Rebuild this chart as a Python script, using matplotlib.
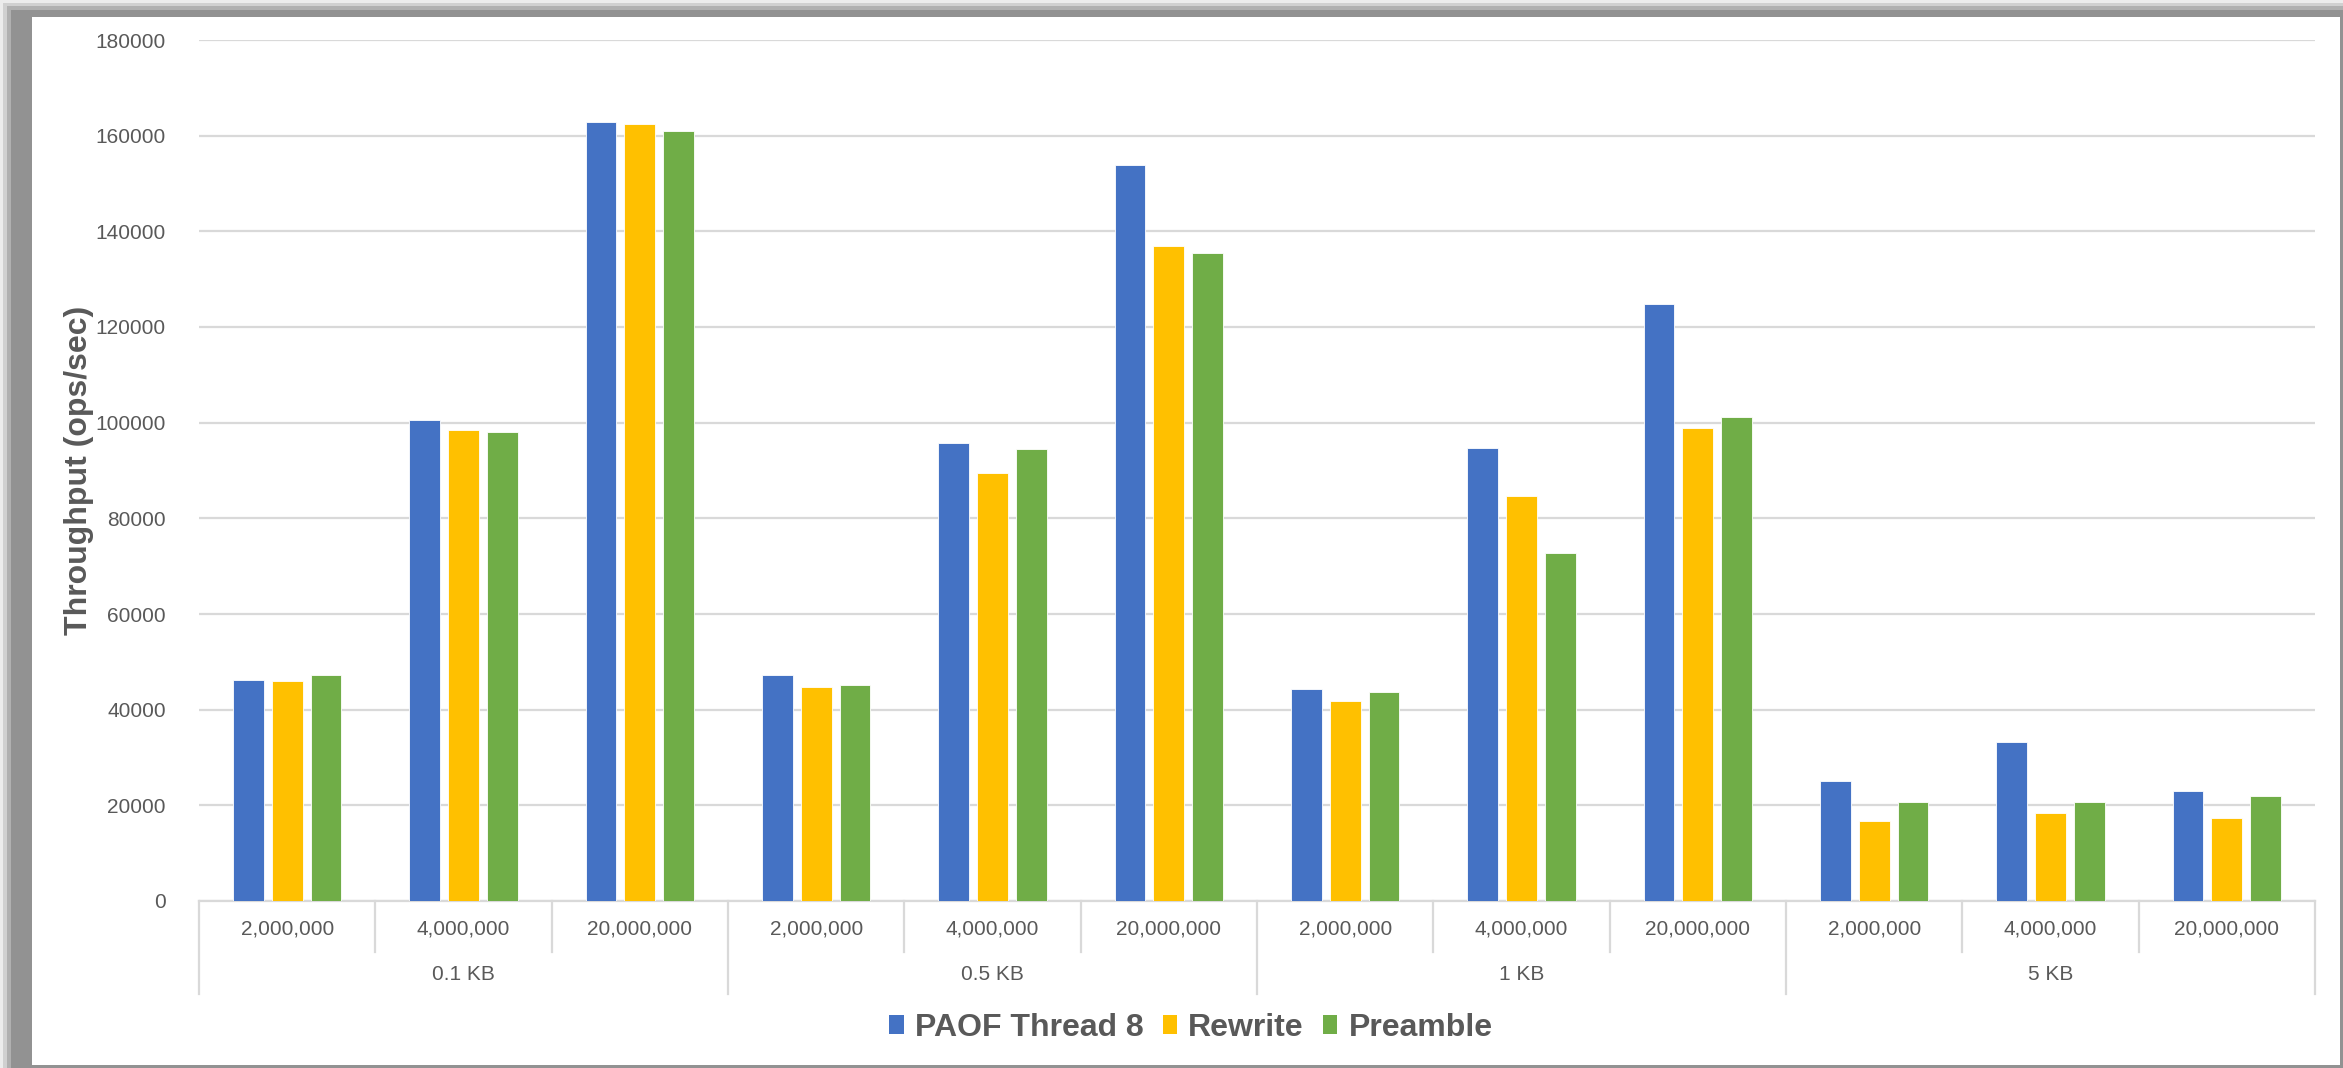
import matplotlib
matplotlib.use("Agg")
import matplotlib.pyplot as plt
from matplotlib.patches import Rectangle, Patch
import numpy as np

plt.rcParams['font.family'] = ['Liberation Sans', 'DejaVu Sans']

sizes = ['0.1 KB', '0.5 KB', '1 KB', '5 KB']
keys = ['2,000,000', '4,000,000', '20,000,000']
series_names = ['PAOF Thread 8', 'Rewrite', 'Preamble']
paof = [46300, 100500, 162800, 47200, 95800, 153800, 44300, 94800, 124800, 25000, 33200, 23100]
rewrite = [46000, 98400, 162500, 44700, 89500, 137000, 41900, 84700, 98800, 16800, 18400, 17300]
preamble = [47300, 98100, 161000, 45200, 94500, 135500, 43600, 72800, 101100, 20600, 20600, 21900]
colors = ['#4472C4', '#FFC000', '#70AD47']

W, H = 2343, 1068
fig = plt.figure(figsize=(W / 100, H / 100), dpi=100)
fig.patch.set_facecolor('#ececec')

def frect(x0, y0, x1, y1, color, z=0):
    # pixel coords from top-left
    fig.patches.append(Rectangle((x0 / W, 1 - y1 / H), (x1 - x0) / W, (y1 - y0) / H,
                                 transform=fig.transFigure, facecolor=color,
                                 edgecolor='none', zorder=z))

frect(3, 3, W, H, '#d0d0d0', 0)
frect(7, 6, W, H, '#b0b0b0', 0)
frect(11, 10, W, H, '#929292', 0)
frect(32, 17, W - 3, H - 3, '#ffffff', 1)

ax = fig.add_axes([199 / W, 1 - 901 / H, (2315 - 199) / W, (901 - 40) / H])
ax.set_zorder(2)
ax.patch.set_alpha(0)

n = len(paof)
x = np.arange(n)
width = 0.175
step = 0.22
for i, (vals, c, name) in enumerate(zip([paof, rewrite, preamble], colors, series_names)):
    ax.bar(x + (i - 1) * step, vals, width=width, color=c, edgecolor='white',
           linewidth=0.6, zorder=3, label=name)

ax.set_xlim(-0.5, n - 0.5)
ax.set_ylim(0, 180000)
ax.set_yticks(np.arange(0, 180001, 20000))
ax.yaxis.set_major_formatter(matplotlib.ticker.FuncFormatter(lambda v, p: f"{int(v)}"))
ax.tick_params(axis='y', length=0, pad=24, labelsize=15, labelcolor='#595959')
ax.set_xticks([])
ax.grid(axis='y', color='#d9d9d9', linewidth=1.6, zorder=0)
for s in ['left', 'right', 'top']:
    ax.spines[s].set_visible(False)
ax.spines['bottom'].set_color('#d9d9d9')
ax.spines['bottom'].set_linewidth(1.6)

ax.set_ylabel('Throughput (ops/sec)', fontsize=23, fontweight='bold', color='#595959')
ax.yaxis.set_label_coords((94 - 199) / (2315 - 199), 0.5)

trans = matplotlib.transforms.blended_transform_factory(ax.transData, ax.transAxes)
axh = 901 - 40
y_tick = -28 / axh
y_grp = -74 / axh
y_sub = -51 / axh
y_long = -93 / axh
for i in range(n):
    ax.text(x[i], y_tick, keys[i % 3], transform=trans, ha='center', va='center',
            fontsize=15, color='#595959')
for g, s in enumerate(sizes):
    ax.text(3 * g + 1, y_grp, s, transform=trans, ha='center', va='center',
            fontsize=15, color='#595959')
for b in range(n + 1):
    xb = b - 0.5
    ylow = y_long if b % 3 == 0 else y_sub
    ax.plot([xb, xb], [0, ylow], transform=trans, color='#d9d9d9', linewidth=1.6,
            clip_on=False, zorder=1)

handles = [Patch(facecolor=c, edgecolor='none') for c in colors]
leg = fig.legend(handles, series_names, loc='center', bbox_to_anchor=(1191 / W, 1 - 1028 / H),
                 ncol=3, frameon=False, fontsize=23, handlelength=0.45, handleheight=0.55,
                 handletextpad=0.35, columnspacing=0.6)
for t in leg.get_texts():
    t.set_color('#595959')
    t.set_fontweight('bold')

fig.savefig('out.png', dpi=100, facecolor=fig.get_facecolor())
